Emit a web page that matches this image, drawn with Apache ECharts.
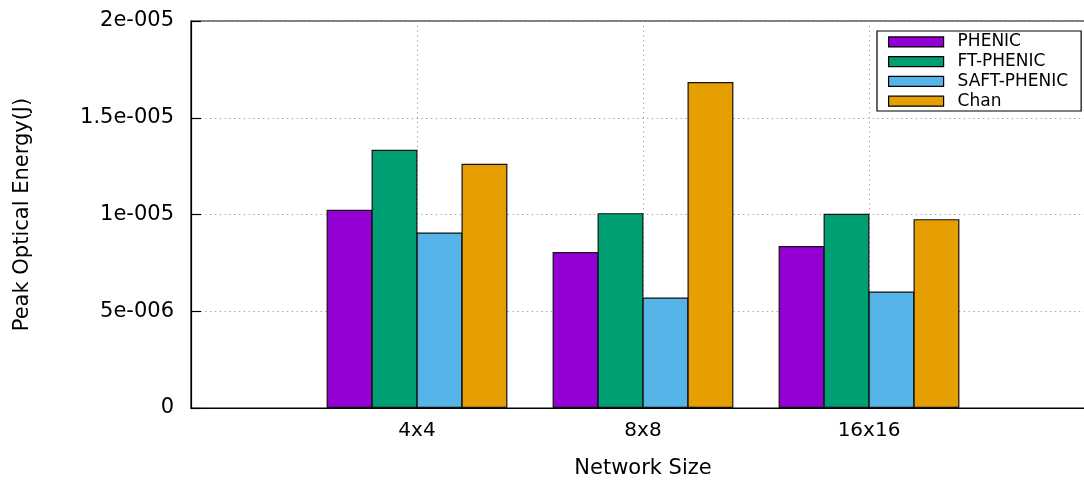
<!DOCTYPE html>
<html>
<head>
<meta charset="utf-8">
<script src="https://cdn.jsdelivr.net/npm/echarts@6/dist/echarts.min.js"></script>
<style>
  html, body { margin: 0; padding: 0; background: #fff; }
  #chart { width: 1084px; height: 484px; }
</style>
</head>
<body>
<div id="chart"></div>
<script>
// Network sizes on the x axis
const categories = ['4x4', '8x8', '16x16'];

// Peak optical energy (J) per scheme
const phenic     = [1.024e-5, 0.806e-5, 0.837e-5];
const ftPhenic   = [1.334e-5, 1.007e-5, 1.004e-5];
const saftPhenic = [0.907e-5, 0.571e-5, 0.602e-5];
const chan       = [1.262e-5, 1.685e-5, 0.976e-5];

const seriesNames  = ['PHENIC', 'FT-PHENIC', 'SAFT-PHENIC', 'Chan'];
const seriesColors = ['#9400d3', '#009e73', '#56b4e9', '#e69f00'];

// Y tick labels in the plotting tool's exponent style
const yTickLabels = ['0', '5e-006', '1e-005', '1.5e-005', '2e-005'];
const yStep = 5e-6;

const FONT = 'DejaVu Sans';

// one empty slot on each side of the groups
const paddedCats = [''].concat(categories, ['']);
const pad = arr => [null].concat(arr, [null]);

const allValues = [phenic, ftPhenic, saftPhenic, chan];

const chart = echarts.init(document.getElementById('chart'), null, { renderer: 'canvas' });

chart.setOption({
  animation: false,
  backgroundColor: '#fff',
  textStyle: { fontFamily: FONT },
  grid: {
    left: 191, top: 21, width: 904, height: 387,
    outerBoundsMode: 'none',
    containLabel: false,
    show: true, borderColor: '#000', borderWidth: 1.2, backgroundColor: 'transparent'
  },
  legend: {
    orient: 'vertical',
    left: 877, top: 31,
    padding: [1, 13, 0, 11],
    borderColor: '#000', borderWidth: 1.2,
    backgroundColor: '#fff',
    itemWidth: 55, itemHeight: 10, itemGap: 0,
    icon: 'rect',
    textStyle: { fontFamily: FONT, fontSize: 17, color: '#000', lineHeight: 19.75, padding: [0, 0, 0, 9] },
    itemStyle: { borderColor: '#000', borderWidth: 1.2 },
    data: seriesNames
  },
  xAxis: {
    type: 'category',
    data: paddedCats,
    boundaryGap: false,
    name: 'Network Size',
    nameLocation: 'middle',
    nameGap: 50,
    nameTextStyle: { fontFamily: FONT, fontSize: 21, color: '#000' },
    axisLine: { show: true, lineStyle: { color: '#000', width: 1.2 } },
    axisTick: { show: false },
    axisLabel: { interval: 0, margin: 13, fontFamily: FONT, fontSize: 20, color: '#000' },
    splitLine: {
      show: true,
      interval: (i) => i > 0 && i < paddedCats.length - 1,
      lineStyle: { color: '#9a9a9a', type: [1.2, 3.6], width: 1 }
    }
  },
  yAxis: {
    type: 'value',
    min: 0, max: 2e-5, interval: yStep,
    name: 'Peak Optical Energy(J)',
    nameLocation: 'middle',
    nameGap: 158,
    nameTextStyle: { fontFamily: FONT, fontSize: 21, color: '#000' },
    axisLine: { show: true, lineStyle: { color: '#000', width: 1.2 } },
    axisTick: { show: true, inside: true, length: 10, lineStyle: { color: '#000', width: 1.2 } },
    axisLabel: {
      margin: 17, fontFamily: FONT, fontSize: 21, color: '#000',
      formatter: (v) => yTickLabels[Math.round(v / yStep)]
    },
    splitLine: {
      show: true,
      lineStyle: { color: '#9a9a9a', type: [1.2, 3.6], width: 1 }
    }
  },
  series: seriesNames.map((name, i) => ({
    name: name,
    type: 'bar',
    data: pad(allValues[i]),
    barGap: '-2%',
    barCategoryGap: '20%',
    itemStyle: { color: seriesColors[i], borderColor: '#111', borderWidth: 1.2 }
  }))
});
</script>
</body>
</html>
